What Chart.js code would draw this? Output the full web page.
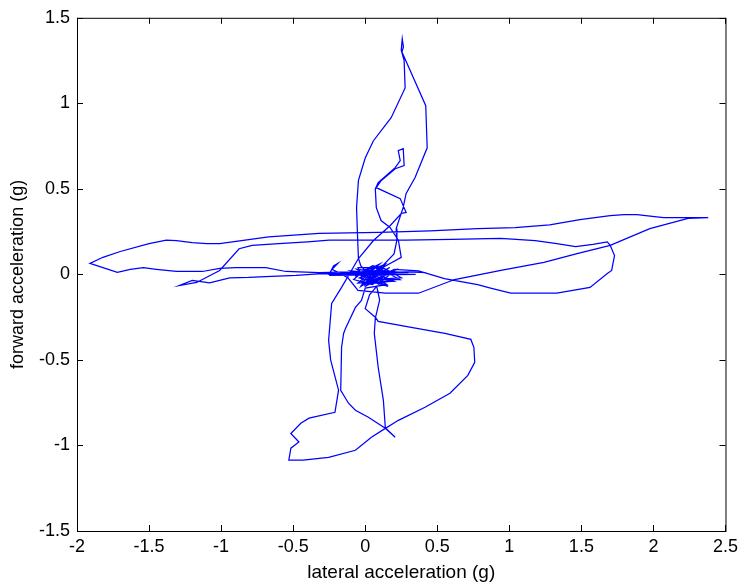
<!DOCTYPE html>
<html>
<head>
<meta charset="utf-8">
<title>Aceleração lateral x longitudinal</title>
<script src="https://cdn.jsdelivr.net/npm/chart.js@4.4.0/dist/chart.umd.min.js"></script>
<style>
    html, body { margin: 0; padding: 0; background: #ffffff; }
    #chartWrap { position: relative; width: 743px; height: 588px; }
</style>
</head>
<body>
<div id="chartWrap">
    <canvas id="accelChart" width="743" height="588"></canvas>
</div>
<script>
/* ========================================
   G-G DIAGRAM - DADOS
======================================== */

// Ticks dos eixos
const xTicks = [-2, -1.5, -1, -0.5, 0, 0.5, 1, 1.5, 2, 2.5];
const yTicks = [-1.5, -1, -0.5, 0, 0.5, 1, 1.5];

// Trajetória registrada (g), na ordem das amostras
const lateralG = [
    0.05, -0.1, -0.3, -0.48, -0.65, -0.81, -0.94, -1.08, -1.2, -1.29,
    -1.17, -1.01, -0.875, -0.785, -0.6, -0.4, -0.25, 0.0, 0.28, 0.6,
    0.94, 1.18, 1.33, 1.46, 1.58, 1.68, 1.70, 1.73, 1.71, 1.68,
    1.56, 1.33, 1.01, 0.87, 0.78, 0.55, 0.37, 0.2,
    0.1, 0.0, -0.08, 0.05, 0.15, 0.05, -0.05, 0.18, -0.02, 0.12,
    0.02, 0.22, -0.06, 0.08,
    -0.03, -0.047, -0.054, -0.06, -0.047, 0.0, 0.056, 0.18, 0.277, 0.27,
    0.25, 0.257, 0.265, 0.255, 0.42, 0.43, 0.346, 0.284, 0.263, 0.215,
    0.22, 0.2, 0.12, 0.05,
    -0.1, 0.1, 0.2, 0.0, -0.05, 0.12, 0.25, 0.05, 0.16, -0.04,
    0.09, 0.3, -0.3, 0.35, -0.25, 0.2, 0.04, 0.14, -0.07, 0.1,
    0.25, 0.23, 0.172, 0.11, 0.077, 0.07, 0.09, 0.208, 0.243, 0.229,
    0.264, 0.27, 0.208, 0.11, 0.077, 0.243, 0.284, 0.25, 0.174, 0.057,
    -0.047, -0.164, -0.233,
    -0.254, -0.24, -0.185, -0.21, -0.39, -0.447, -0.516, -0.46, -0.516, -0.53,
    -0.43, -0.254, -0.068, 0.043, 0.14,
    0.126, 0.09, 0.063, 0.07, 0.1, 0.08, 0.03, 0.0, 0.07,
    0.09, 0.319, 0.553, 0.733, 0.754, 0.76, 0.712, 0.588, 0.415, 0.23,
    0.14, 0.208, 0.15,
    0.022, -0.068, -0.116, -0.17, -0.164, -0.15, -0.137, -0.068, -0.026, 0.0,
    0.15, 0.0, 0.1, -0.05, 0.2, 0.08, 0.17, -0.03, 0.06, 0.24,
    0.01, 0.13, -0.1, -0.25, -0.22, -0.19, -0.23, -0.12,
    -0.05, 0.14, 0.37, 0.62, 0.95, 1.24, 1.47, 1.70, 1.975, 2.24,
    2.38,
    2.07, 1.885, 1.796, 1.70, 1.49, 1.28, 1.04, 0.78, 0.45, 0.1,
    -0.32, -0.67, -1.01, -1.1, -1.2, -1.31, -1.38, -1.5, -1.7, -1.82,
    -1.91,
    -1.82, -1.72, -1.63, -1.54, -1.45, -1.31, -1.13, -1.01, -0.9, -0.69,
    -0.55, -0.32, -0.1, 0.1, 0.3, 0.42
];

const forwardG = [
    0.0, 0.0, 0.005, -0.006, -0.012, -0.018, -0.02, -0.05, -0.035, -0.065,
    -0.047, 0.023, 0.15, 0.17, 0.18, 0.19, 0.2, 0.2, 0.2, 0.205,
    0.21, 0.198, 0.18, 0.163, 0.175, 0.19, 0.17, 0.11, 0.023, 0.005,
    -0.076, -0.11, -0.11, -0.08, -0.06, -0.025, 0.02, 0.03,
    -0.02, 0.03, -0.03, -0.06, 0.0, 0.05, 0.0, -0.04, -0.06, 0.03,
    0.01, 0.0, 0.03, -0.05,
    0.05, 0.093, 0.24, 0.39, 0.55, 0.68, 0.78, 0.916, 1.09, 1.25,
    1.31, 1.377, 1.33, 1.3, 0.986, 0.74, 0.566, 0.473, 0.39, 0.268,
    0.2, 0.12, 0.05, 0.01,
    0.02, -0.05, 0.02, -0.07, 0.04, 0.04, -0.02, -0.03, -0.07, -0.02,
    0.02, 0.01, 0.005, 0.0, -0.005, 0.02, -0.04, 0.06, -0.01, 0.03,
    0.1, 0.2, 0.274, 0.315, 0.39, 0.5, 0.537, 0.624, 0.665, 0.724,
    0.735, 0.636, 0.618, 0.548, 0.507, 0.443, 0.362, 0.356, 0.286, 0.198,
    0.093, -0.076, -0.17,
    -0.386, -0.5, -0.677, -0.806, -0.84, -0.87, -0.93, -0.98, -1.016, -1.086,
    -1.086, -1.07, -1.028, -0.952, -0.9,
    -0.736, -0.543, -0.345, -0.257, -0.15, -0.07, -0.12, -0.2, -0.25,
    -0.275, -0.31, -0.345, -0.38, -0.426, -0.514, -0.59, -0.695, -0.777, -0.853,
    -0.9, -0.952, -0.905,
    -0.835, -0.794, -0.753, -0.677, -0.426, -0.345, -0.316, -0.193, -0.152, -0.08,
    -0.06, 0.02, 0.06, -0.05, -0.04, 0.0, 0.04, -0.07, 0.05, -0.03,
    -0.03, 0.02, 0.01, 0.0, 0.05, 0.065, 0.03, -0.02,
    -0.094, -0.11, -0.11, -0.03, 0.025, 0.07, 0.122, 0.17, 0.268, 0.327,
    0.332,
    0.332, 0.35, 0.35, 0.344, 0.32, 0.29, 0.274, 0.268, 0.255, 0.245,
    0.24, 0.22, 0.18, 0.18, 0.186, 0.198, 0.2, 0.18, 0.134, 0.1,
    0.064,
    0.04, 0.012, 0.03, 0.04, 0.03, 0.017, 0.017, 0.035, 0.04, 0.04,
    0.017, 0.01, 0.015, 0.01, 0.015, 0.01
];

const FONT_FAMILY = '"Liberation Sans", Arial, Helvetica, sans-serif';

// ========================================
// PLUGIN: CAIXA E TICKS INTERNOS
// ========================================

const boxTicksPlugin = {
    id: 'boxTicks',
    afterDatasetsDraw(chart) {
        const { ctx, chartArea: a, scales: { x, y } } = chart;
        const len = 6;
        ctx.save();
        ctx.strokeStyle = '#000000';
        ctx.lineWidth = 1;
        ctx.strokeRect(a.left + 0.5, a.top + 0.5, a.right - a.left, a.bottom - a.top);

        ctx.beginPath();
        xTicks.forEach(v => {
            const px = Math.round(x.getPixelForValue(v)) + 0.5;
            ctx.moveTo(px, a.bottom);
            ctx.lineTo(px, a.bottom - len);
            ctx.moveTo(px, a.top);
            ctx.lineTo(px, a.top + len);
        });
        yTicks.forEach(v => {
            const py = Math.round(y.getPixelForValue(v)) + 0.5;
            ctx.moveTo(a.left, py);
            ctx.lineTo(a.left + len, py);
            ctx.moveTo(a.right, py);
            ctx.lineTo(a.right - len, py);
        });
        ctx.stroke();
        ctx.restore();
    }
};

// ========================================
// GRÁFICO
// ========================================

function initializeAccelChart() {
    const ctx = document.getElementById('accelChart');
    if (!ctx) return;

    const points = lateralG.map((v, i) => ({ x: v, y: forwardG[i] }));

    new Chart(ctx, {
        type: 'scatter',
        data: {
            datasets: [{
                data: points,
                showLine: true,
                borderColor: '#0000ff',
                borderWidth: 1.25,
                pointRadius: 0,
                tension: 0,
                fill: false
            }]
        },
        options: {
            responsive: false,
            animation: false,
            layout: { padding: { top: 17, right: 14, left: 0, bottom: 0 } },
            plugins: {
                legend: { display: false },
                tooltip: { enabled: false }
            },
            scales: {
                x: {
                    type: 'linear',
                    min: -2,
                    max: 2.5,
                    afterBuildTicks: s => { s.ticks = xTicks.map(v => ({ value: v })); },
                    afterFit: s => { s.height = 57; },
                    grid: { display: false, drawTicks: false },
                    border: { display: false },
                    ticks: {
                        color: '#000000',
                        padding: 5,
                        maxRotation: 0,
                        font: { family: FONT_FAMILY, size: 18 },
                        callback: v => String(v)
                    },
                    title: {
                        display: true,
                        text: 'lateral acceleration (g)',
                        color: '#000000',
                        font: { family: FONT_FAMILY, size: 19 },
                        padding: { top: 0, bottom: 4 }
                    }
                },
                y: {
                    type: 'linear',
                    min: -1.5,
                    max: 1.5,
                    afterBuildTicks: s => { s.ticks = yTicks.map(v => ({ value: v })); },
                    afterFit: s => { s.width = 77; },
                    grid: { display: false, drawTicks: false },
                    border: { display: false },
                    ticks: {
                        color: '#000000',
                        padding: 7,
                        font: { family: FONT_FAMILY, size: 18 },
                        callback: v => String(v)
                    },
                    title: {
                        display: true,
                        text: 'forward acceleration (g)',
                        color: '#000000',
                        font: { family: FONT_FAMILY, size: 18 },
                        padding: { top: 7, bottom: 0 }
                    }
                }
            }
        },
        plugins: [boxTicksPlugin]
    });
}

document.addEventListener('DOMContentLoaded', initializeAccelChart);
</script>
</body>
</html>
